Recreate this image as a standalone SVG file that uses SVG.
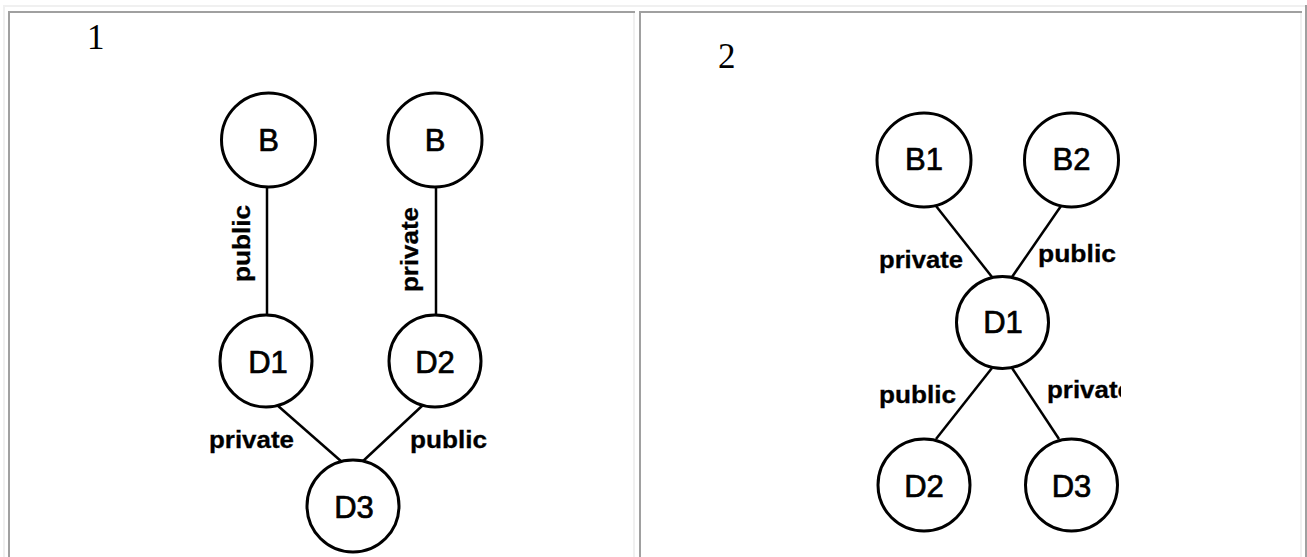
<svg xmlns="http://www.w3.org/2000/svg" width="1307" height="557" viewBox="0 0 1307 557">
<style>
.node circle{fill:#fff;stroke:#000;stroke-width:3}
.node text{font-family:"Liberation Sans",Arial,sans-serif;font-size:31px;text-anchor:middle;fill:#000;stroke:#000;stroke-width:0.7}
.edge{stroke:#000;stroke-width:2.5;fill:none}
.lbl{font-family:"Liberation Sans",Arial,sans-serif;font-size:24px;font-weight:bold;fill:#000;stroke:#000;stroke-width:0.3}
.num{font-family:"Liberation Serif","Times New Roman",serif;font-size:35px;fill:#000}
.dark{fill:#a0a0a0}
.light{fill:#f0f0f0}
</style>
<defs>
<clipPath id="clip2"><rect x="639" y="11" width="482" height="546"/></clipPath>
</defs>
<rect width="1307" height="557" fill="#fff"/>
<g id="table">
<rect class="light" x="3" y="5" width="1302" height="2"/>
<rect class="light" x="3" y="5" width="2" height="552"/>
<rect class="dark" x="1305" y="5" width="2" height="552"/>
<rect class="dark" x="8" y="11" width="627" height="2"/>
<rect class="dark" x="8" y="11" width="2" height="546"/>
<rect class="light" x="633" y="13" width="2" height="544"/>
<rect class="dark" x="639" y="11" width="663" height="2"/>
<rect class="dark" x="639" y="11" width="2" height="546"/>
<rect class="light" x="1300" y="13" width="2" height="544"/>
</g>
<text class="num" x="87" y="49">1</text>
<text class="num" x="718" y="68">2</text>
<g id="connectors">
<line class="edge" x1="267" y1="187" x2="267" y2="315"/>
<line class="edge" x1="436" y1="187" x2="436" y2="315"/>
<line class="edge" x1="277" y1="405" x2="342" y2="462"/>
<line class="edge" x1="423" y1="405" x2="362" y2="462"/>
<line class="edge" x1="936" y1="206" x2="992" y2="277"/>
<line class="edge" x1="1061" y1="206" x2="1012" y2="277"/>
<line class="edge" x1="992" y1="368" x2="936" y2="439"/>
<line class="edge" x1="1012" y1="368" x2="1059" y2="439"/>
<text class="lbl" text-anchor="middle" textLength="77" lengthAdjust="spacingAndGlyphs" transform="translate(250,243.5) rotate(-90)">public</text>
<text class="lbl" text-anchor="middle" textLength="85" lengthAdjust="spacingAndGlyphs" transform="translate(418,249.5) rotate(-90)">private</text>
<text class="lbl" x="209" y="448" textLength="85" lengthAdjust="spacingAndGlyphs">private</text>
<text class="lbl" x="410" y="448" textLength="77" lengthAdjust="spacingAndGlyphs">public</text>
<text class="lbl" x="879" y="268" textLength="84" lengthAdjust="spacingAndGlyphs">private</text>
<text class="lbl" x="1038" y="262" textLength="78" lengthAdjust="spacingAndGlyphs">public</text>
<text class="lbl" x="879" y="403" textLength="77" lengthAdjust="spacingAndGlyphs">public</text>
<g clip-path="url(#clip2)">
<text class="lbl" x="1047" y="398" textLength="85" lengthAdjust="spacingAndGlyphs">private</text>
</g>
</g>
<g id="n1-B-left" class="node"><circle cx="268.5" cy="140" r="47"/><text x="268.5" y="151">B</text></g>
<g id="n1-B-right" class="node"><circle cx="435" cy="140" r="47"/><text x="435" y="151">B</text></g>
<g id="n1-D1" class="node"><circle cx="266" cy="361" r="46"/><text x="268" y="373">D1</text></g>
<g id="n1-D2" class="node"><circle cx="435" cy="361" r="46"/><text x="435" y="373">D2</text></g>
<g id="n1-D3" class="node"><circle cx="353" cy="506" r="46"/><text x="354" y="518">D3</text></g>
<g id="n2-B1" class="node"><circle cx="924" cy="160" r="47"/><text x="924" y="170">B1</text></g>
<g id="n2-B2" class="node"><circle cx="1071.5" cy="160" r="47"/><text x="1071.5" y="170">B2</text></g>
<g id="n2-D1" class="node"><circle cx="1002.5" cy="322.5" r="46"/><text x="1003" y="333">D1</text></g>
<g id="n2-D2" class="node"><circle cx="924" cy="485" r="46"/><text x="924" y="497">D2</text></g>
<g id="n2-D3" class="node"><circle cx="1071.5" cy="485" r="46"/><text x="1071.5" y="497">D3</text></g>
</svg>
